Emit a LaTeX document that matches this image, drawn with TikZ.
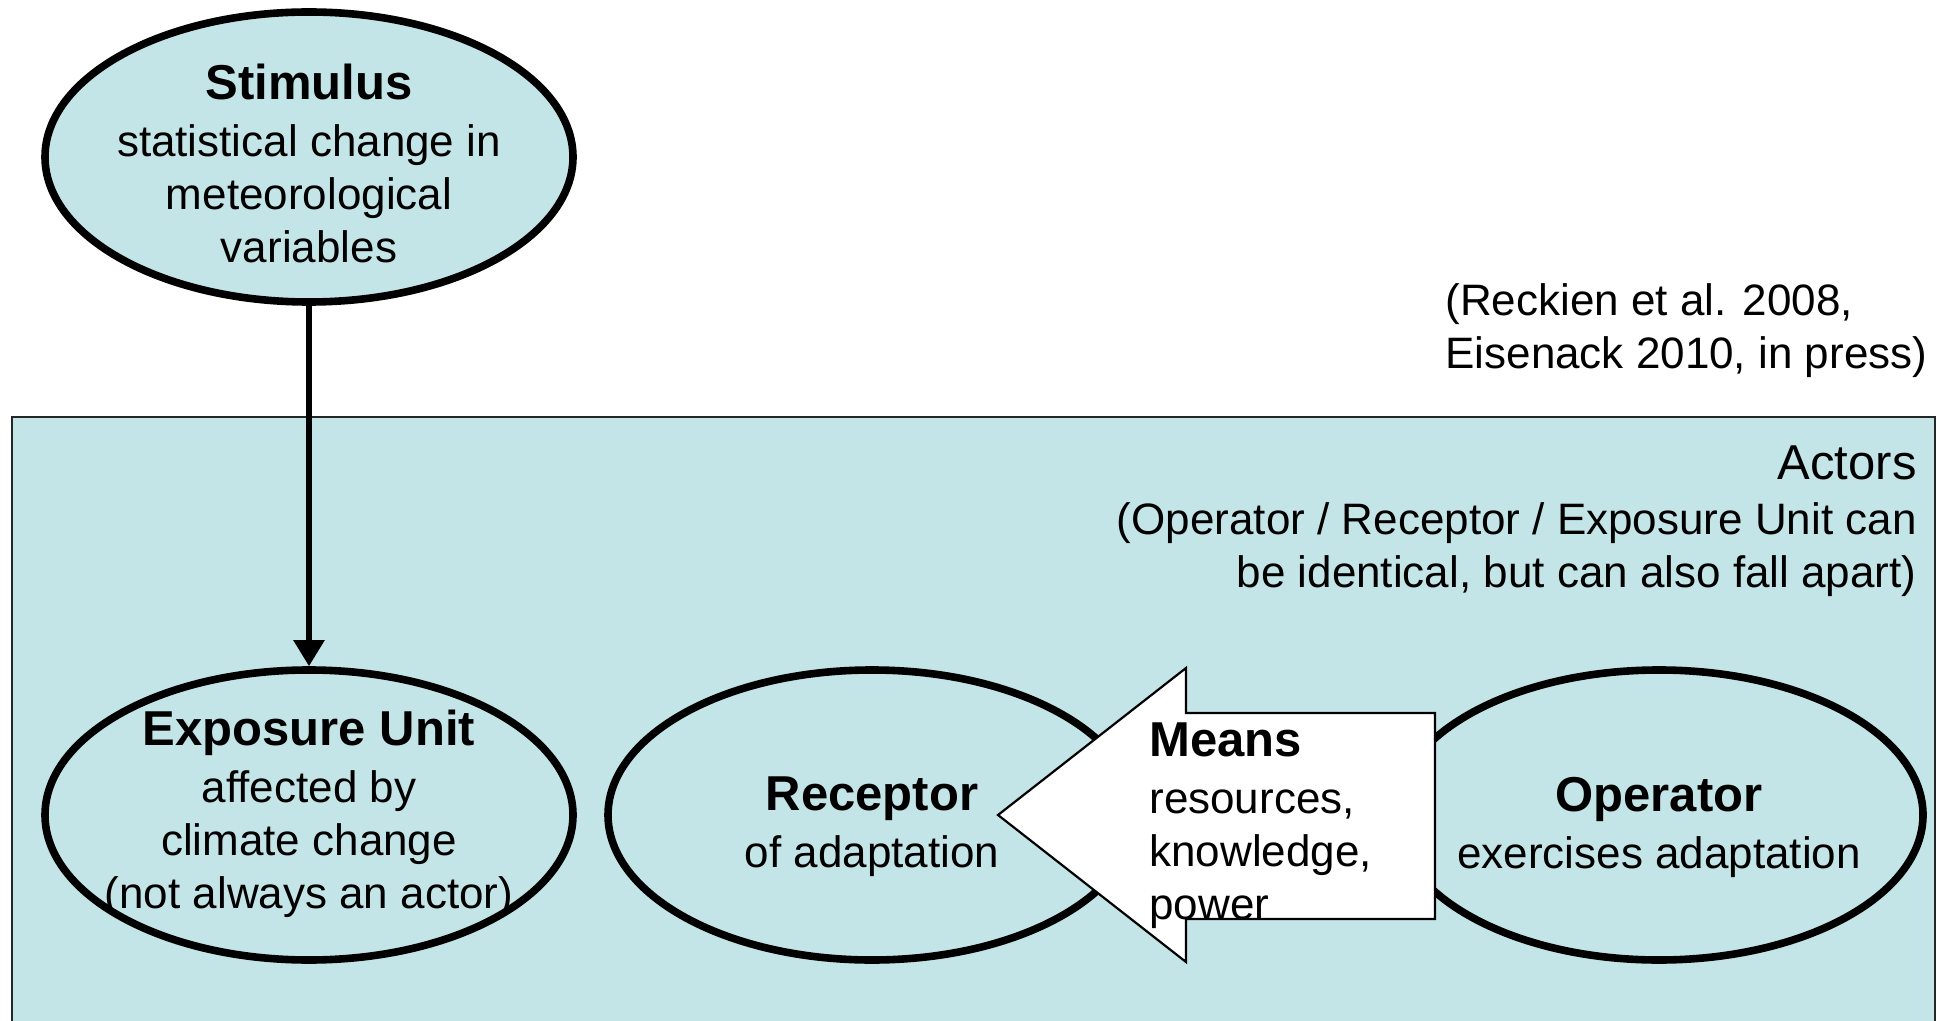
\documentclass[tikz,border=0pt]{standalone}
\usepackage{fontspec}
\setmainfont{Liberation Sans}
\usetikzlibrary{shapes.geometric,arrows.meta}
\definecolor{actorfill}{RGB}{196,229,231}
\begin{document}
\begin{tikzpicture}[x=0.5pt,y=-0.5pt,
  oval/.style={ellipse, draw, line width=3.8pt, fill=actorfill,
    minimum width=264pt, minimum height=145pt, inner sep=0pt},
  body/.style={inner sep=0pt, font=\fontsize{22}{26.5}\selectfont},
  flow/.style={line width=2.8pt, -{Triangle[width=15pt,length=13pt]}},
  meansbox/.style={draw, fill=white, line width=1.1pt, line join=miter},
]
\useasboundingbox (0,0) rectangle (1937,1021);

% actor area
\fill[actorfill] (12,417) rectangle (1935,1021);
\draw[line width=1.2pt, draw=black!85] (12,1021) -- (12,417) -- (1935,417) -- (1935,1021);

% ovals
\node[oval] (stim) at (309,157) {};
\node[oval] (expo) at (309,815) {};
\node[oval] (recep) at (872,815) {};
\node[oval] (oper) at (1659,815) {};

% stimulus acts on the exposure unit
\draw[flow] (stim.south) -- (expo.north);

% means arrow from operator to receptor
\coordinate (tip) at (998,815);
\draw[meansbox] (tip) -- (1186,668) -- (1186,713) -- (1435,713) -- (1435,919)
  -- (1186,919) -- (1186,962) -- cycle;

% texts
\node[body, align=center] (stimtxt) at (309,163)
  {{\bfseries\fontsize{24.5}{28}\selectfont Stimulus}\\[2pt]
   statistical change in\\ meteorological\\ variables};
\node[body, align=center] (expotxt) at (309,814)
  {{\bfseries\fontsize{24.5}{28}\selectfont Exposure Unit}\\[2pt]
   affected by\\ climate change\\ (not always an actor)};
\node[body, align=center] (receptxt) at (872,827)
  {{\bfseries\fontsize{24.5}{28}\selectfont Receptor}\\[2pt] of adaptation};
\node[body, align=center] (opertxt) at (1659,827)
  {{\bfseries\fontsize{24.5}{28}\selectfont Operator}\\[2pt] exercises adaptation};
\node[body, align=left, anchor=west] (meanstxt) at (1149,826)
  {{\bfseries\fontsize{24.5}{28}\selectfont Means}\\[2pt]
   resources,\\ knowledge,\\ power};
\node[body, align=right, anchor=east] (actorstxt) at (1917,521)
  {{\fontsize{24.5}{28}\selectfont Actors}\\[1pt]
   (Operator / Receptor / Exposure Unit can\\ be identical, but can also fall apart)};
\node[body, align=left, anchor=west] (citetxt) at (1445,331)
  {(Reckien et al. 2008,\\ Eisenack 2010, in press)};
\end{tikzpicture}
\end{document}
